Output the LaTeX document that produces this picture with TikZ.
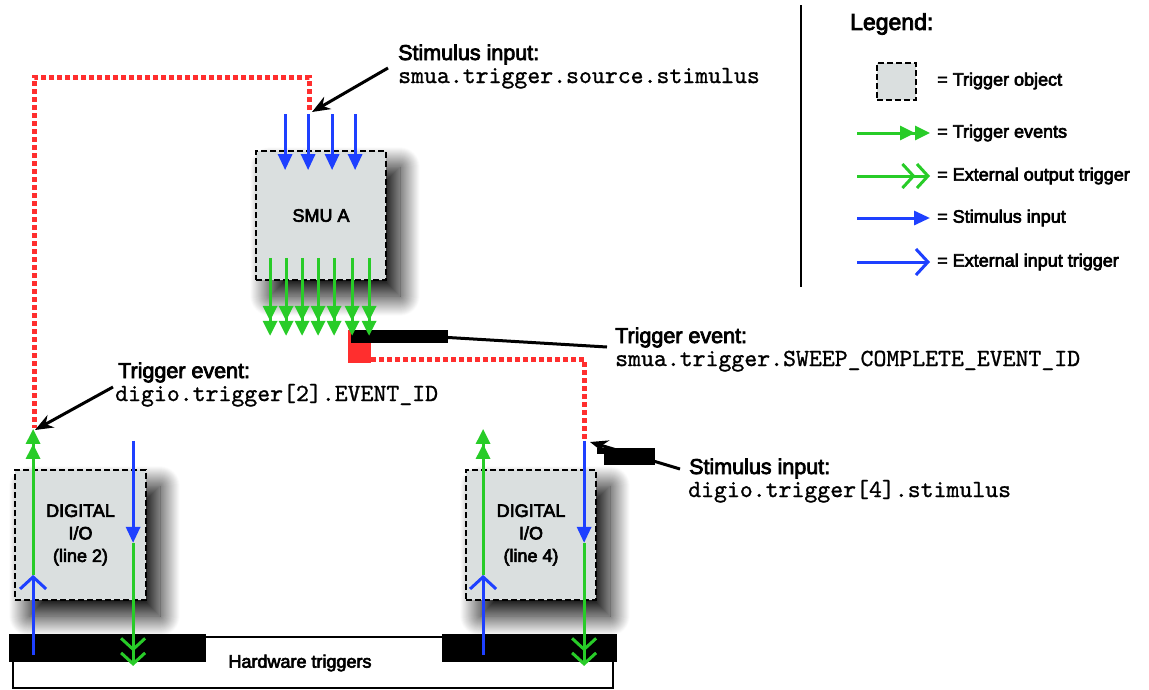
\documentclass[tikz,border=0pt]{standalone}
\usepackage{fontspec}
\setmainfont{Liberation Sans}[FakeBold=3.5]
\setmonofont{lmmono10-regular.otf}[FakeBold=1]
\usetikzlibrary{arrows.meta,shadows.blur,calc}

\definecolor{objgray}{HTML}{DADFDF}
\definecolor{evgreen}{HTML}{28CC28}
\definecolor{stblue}{HTML}{1E40FF}
\definecolor{lkred}{HTML}{FF2E2E}

\newcommand{\codefont}{\fontsize{24.6}{23}\selectfont\ttfamily}
\newcommand{\calloutfont}{\fontsize{21.5}{23}\selectfont\lineskiplimit=-50pt\relax}

\tikzset{
  trigobj/.style={draw=black, fill=objgray, line width=1.8pt, dash pattern=on 6pt off 3pt,
    inner sep=0pt, align=center, font=\fontsize{18}{22.5}\selectfont},
  objshadow/.style={blur shadow={shadow xshift=14pt, shadow yshift=-16pt,
    shadow blur radius=20pt, shadow blur steps=40, shadow opacity=100}},
  evtarrow/.style={evgreen, line width=3pt,
    -{Triangle[width=14pt,length=15pt] Triangle[width=14pt,length=15pt]}},
  outarrow/.style={evgreen, line width=3pt,
    -{Straight Barb[width=24pt,length=11pt] Straight Barb[width=24pt,length=11pt]}},
  stimarrow/.style={stblue, line width=3pt, -{Triangle[width=14pt,length=16pt]}},
  inarrow/.style={stblue, line width=3pt, -{Straight Barb[width=26pt,length=12pt]}},
  link/.style={lkred, line width=5pt, dash pattern=on 5pt off 3pt},
  pointer/.style={line width=3pt, -{Stealth[width=14pt,length=18pt]}},
  callout/.style={anchor=base west, inner sep=0pt, align=left, font=\calloutfont},
  legtext/.style={anchor=west, inner sep=0pt, font=\fontsize{18}{22}\selectfont},
  redact/.style={fill=black}
}

\begin{document}
\begin{tikzpicture}[x=1pt, y=-1pt]
  \useasboundingbox (0,0) rectangle (1149,689);

  % Trigger objects
  \node[trigobj, objshadow, minimum width=130pt, minimum height=129pt] (smu) at (321,215.5) {SMU A};
  \node[trigobj, objshadow, minimum width=131pt, minimum height=130pt] (dio2) at (80.5,535) {DIGITAL\\I/O\\(line 2)};
  \node[trigobj, objshadow, minimum width=130pt, minimum height=130pt] (dio4) at (531,535) {DIGITAL\\I/O\\(line 4)};

  % Hardware triggers
  \node[draw, line width=2.5pt, minimum width=600pt, minimum height=51pt] (hwbus) at (313,662.5) {};
  \node[font=\fontsize{18}{22}\selectfont] (hwtext) at (300,663) {Hardware triggers};
  \fill[redact] (9,634) rectangle (206,662);
  \fill[redact] (442,634) rectangle (617,662);

  % Red links
  \coordinate (smuin) at (309,110);
  \coordinate (d2out) at (34,428);
  \coordinate (swout) at (371,359);
  \coordinate (d4in) at (584,439);
  \draw[link] (smuin) |- (34,77) -- (d2out);
  \draw[link] (swout) -| (d4in);
  \fill[lkred] (348,330) rectangle (371,363);
  \fill[redact] (351,330) rectangle (448,343);

  % SMU A stimulus inputs and trigger events
  \foreach \dx in {30,53,77,100}
    \draw[stimarrow] ([xshift=\dx pt, yshift=36pt]smu.north west) -- ([xshift=\dx pt, yshift=-20pt]smu.north west);
  \foreach \dx in {15,31,47,63,79,97,114}
    \draw[evtarrow] ([xshift=\dx pt, yshift=23pt]smu.south west) -- ([xshift=\dx pt, yshift=-55pt]smu.south west);

  % Digital I/O lines
  \foreach \b/\ux in {dio2/19, dio4/18} {
    \draw[inarrow] ([xshift=\ux pt, yshift=-54pt]\b.south west) -- ([xshift=\ux pt, yshift=26pt]\b.south west);
    \draw[evtarrow] ([xshift=\ux pt, yshift=26pt]\b.south west) -- ([xshift=\ux pt, yshift=172pt]\b.south west);
    \draw[stimarrow] ([xshift=119pt, yshift=160pt]\b.south west) -- ([xshift=119pt, yshift=58pt]\b.south west);
    \draw[outarrow] ([xshift=119pt, yshift=58pt]\b.south west) -- ([xshift=119pt, yshift=-65pt]\b.south west);
  }

  % Labels
  \node[callout] (srclbl) at (398,83) {Stimulus input:\\{\codefont smua.trigger.source.stimulus}};
  \node[callout] (d2lbl) at (118,401) {Trigger event:\\{\codefont\hspace{-3pt}digio.trigger[2].EVENT\_ID}};
  \node[callout] (swlbl) at (615,366) {Trigger event:\\{\codefont smua.trigger.SWEEP\_COMPLETE\_EVENT\_ID}};
  \node[callout] (d4lbl) at (689,497) {Stimulus input:\\{\codefont\hspace{-1pt}digio.trigger[4].stimulus}};

  % Pointers
  \draw[pointer] ($(srclbl.base west)+(-10,-15)$) -- ($(smuin)+(3,2)$);
  \draw[pointer] ($(d2lbl.base west)+(-5,-14)$) -- ($(d2out)+(1,2)$);
  \draw[line width=3pt] ($(swlbl.base west)+(-8,-19)$) -- (440,337);
  \draw[pointer] ($(d4lbl.base west)+(-9,-28)$) -- ($(d4in)+(6,3)$);
  \fill[redact] (604,448) rectangle (655,465);
  \fill[redact] (597,448) rectangle (604,454);

  % Legend
  \draw[line width=2pt] (801,5) -- (801,287);
  \node[anchor=west, inner sep=0pt, font=\fontsize{23}{26}\selectfont] (legtitle) at (850,24) {Legend:};
  \node[trigobj, minimum width=39pt, minimum height=37pt, line width=1.5pt] (legobj) at (896.5,81.5) {};
  \node[legtext] (legobjt) at (937,81) {= Trigger object};
  \node[legtext] (legevt) at (937,133) {= Trigger events};
  \node[legtext] (legout) at (937,176) {= External output trigger};
  \node[legtext] (legstim) at (937,218) {= Stimulus input};
  \node[legtext] (legin) at (937,262) {= External input trigger};
  \draw[evtarrow] ([xshift=-80pt]legevt.west) -- ([xshift=-7pt]legevt.west);
  \draw[outarrow] ([xshift=-80pt]legout.west) -- ([xshift=-7pt]legout.west);
  \draw[stimarrow] ([xshift=-80pt]legstim.west) -- ([xshift=-7pt]legstim.west);
  \draw[inarrow] ([xshift=-80pt]legin.west) -- ([xshift=-7pt]legin.west);
\end{tikzpicture}
\end{document}
